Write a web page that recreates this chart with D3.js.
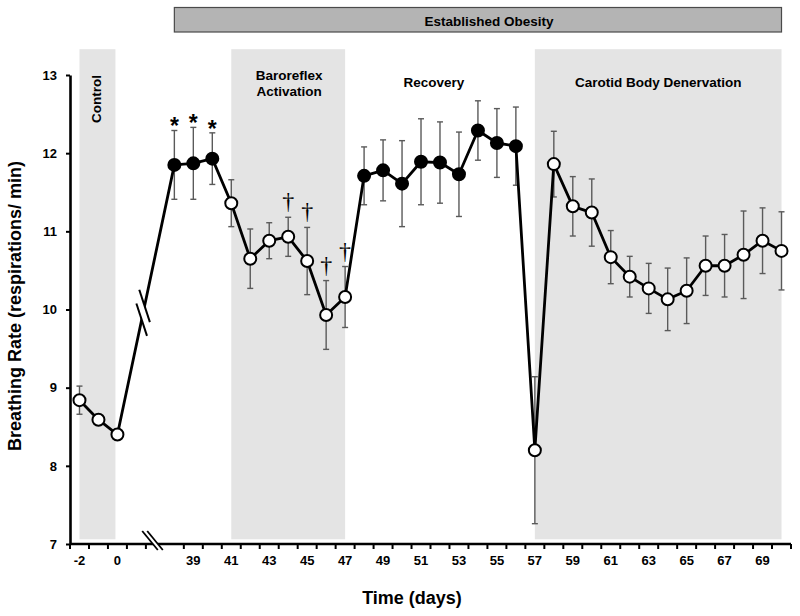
<!DOCTYPE html>
<html><head><meta charset="utf-8">
<script src="https://cdn.jsdelivr.net/npm/d3@7"></script>
<style>
body{margin:0;background:#fff}
svg{display:block}
text{font-family:"Liberation Sans",Arial,sans-serif;font-weight:bold;fill:#000}
</style>
</head><body>
<svg id="chart" width="800" height="616"></svg>
<script>
// ---- data ----
const days   = [-2,-1,0,38,39,40,41,42,43,44,45,46,47,48,49,50,51,52,53,54,55,56,57,58,59,60,61,62,63,64,65,66,67,68,69,70];
const values = [8.84,8.59,8.40,11.85,11.87,11.93,11.36,10.65,10.88,10.93,10.62,9.93,10.16,11.71,11.78,11.61,11.89,11.88,11.73,12.29,12.13,12.09,8.20,11.86,11.32,11.24,10.67,10.42,10.27,10.13,10.24,10.56,10.56,10.70,10.88,10.75];
const errors = [0.18,0.05,0.05,0.44,0.46,0.33,0.30,0.38,0.23,0.25,0.43,0.44,0.39,0.37,0.39,0.55,0.55,0.52,0.54,0.38,0.44,0.50,0.94,0.42,0.38,0.43,0.34,0.26,0.32,0.40,0.42,0.38,0.40,0.56,0.42,0.50];
const filledDays   = [38,39,40,48,49,50,51,52,53,54,55,56];
const asteriskDays = [38,39,40];
const daggerDays   = [44,45,46,47];
const categories = ["-2","-1","0","gap1","gap2"].concat(d3.range(38,71).map(String));
const xTickLabels = ["-2","0","39","41","43","45","47","49","51","53","55","57","59","61","63","65","67","69"];
const yTicks = [7,8,9,10,11,12,13];
const regionNames = ["Control","Baroreflex Activation","Recovery","Carotid Body Denervation"];
const regionStart = [-2,41,47,57];
const regionEnd   = [0,47,57,70];
const regionShaded = [true,true,false,true];
const bannerLabel = "Established Obesity";
const bannerStart = 38, bannerEnd = 70;
const xTitle = "Time (days)";
const yTitle = "Breathing Rate (respirations/ min)";

// ---- scales ----
const svg = d3.select("#chart");
const x = d3.scaleBand().domain(categories).range([70,791]).padding(0);
const xc = d => x(String(d)) + x.bandwidth()/2;
const y = d3.scaleLinear().domain([7,13]).range([544,75]);
const pts = days.map((d,i)=>({day:d, v:values[i], e:errors[i], filled:filledDays.includes(d)}));

// ---- shaded regions ----
regionNames.forEach((n,i)=>{
  if(!regionShaded[i]) return;
  svg.append("rect")
    .attr("x", xc(regionStart[i]))
    .attr("y", y(13.33))
    .attr("width", xc(regionEnd[i]) - xc(regionStart[i]) - (i===0?2:0))
    .attr("height", y(7.06) - y(13.33))
    .attr("fill", "#e4e4e4");
});

// ---- banner ----
svg.append("rect")
  .attr("x", xc(bannerStart)).attr("y", 7.5)
  .attr("width", xc(bannerEnd) - xc(bannerStart)).attr("height", 24.5)
  .attr("fill", "#b4b4b4").attr("stroke", "#4a4a4a").attr("stroke-width", 1.2);
svg.append("text").attr("x", 489).attr("y", 25.5).attr("text-anchor","middle")
  .style("font-size","13.5px").text(bannerLabel);

// ---- region labels ----
svg.append("text")
  .attr("transform", `translate(${xc(-2)+22},99) rotate(-90)`)
  .attr("text-anchor","middle").style("font-size","13.5px").text(regionNames[0]);
const baro = regionNames[1].split(" ");
const baroX = (xc(regionStart[1]) + xc(regionEnd[1]))/2 + 1;
svg.append("text").attr("x", baroX).attr("y", 80).attr("text-anchor","middle").style("font-size","13.5px").text(baro[0]);
svg.append("text").attr("x", baroX).attr("y", 96).attr("text-anchor","middle").style("font-size","13.5px").text(baro[1]);
svg.append("text").attr("x", (xc(regionStart[2]) + xc(regionEnd[2]))/2 - 6).attr("y", 86.5)
  .attr("text-anchor","middle").style("font-size","13.5px").text(regionNames[2]);
svg.append("text").attr("x", (xc(regionStart[3]) + xc(regionEnd[3]))/2).attr("y", 86.5)
  .attr("text-anchor","middle").style("font-size","13.5px").text(regionNames[3]);

// ---- error bars ----
const eb = svg.append("g").attr("stroke","#5a5a5a").attr("stroke-width",1.4);
pts.forEach(p=>{
  const cx = xc(p.day);
  eb.append("line").attr("x1",cx).attr("x2",cx).attr("y1",y(p.v+p.e)).attr("y2",y(p.v-p.e));
  eb.append("line").attr("x1",cx-3).attr("x2",cx+3).attr("y1",y(p.v+p.e)).attr("y2",y(p.v+p.e));
  eb.append("line").attr("x1",cx-3).attr("x2",cx+3).attr("y1",y(p.v-p.e)).attr("y2",y(p.v-p.e));
});

// ---- line ----
const line = d3.line().x(p=>xc(p.day)).y(p=>y(p.v));
svg.append("path").datum(pts).attr("d", line)
  .attr("fill","none").attr("stroke","#000").attr("stroke-width",2.8).attr("stroke-linejoin","round");

// ---- break in the data line ----
(function(){
  const a = pts.find(p=>p.day===0), b = pts.find(p=>p.day===38);
  const P = t => [xc(a.day) + t*(xc(b.day)-xc(a.day)), y(a.v) + t*(y(b.v)-y(a.v))];
  const ux = 0.312, uy = 0.95, h = 17;
  const c1 = P(0.426), c2 = P(0.477);
  const s1 = [[c1[0]-ux*h, c1[1]-uy*h],[c1[0]+ux*h, c1[1]+uy*h]];
  const s2 = [[c2[0]-ux*h, c2[1]-uy*h],[c2[0]+ux*h, c2[1]+uy*h]];
  svg.append("path").attr("d", d3.line()([s1[0],s1[1],s2[1],s2[0]])+"Z").attr("fill","#fff");
  [s1,s2].forEach(s=>svg.append("line").attr("x1",s[0][0]).attr("y1",s[0][1]).attr("x2",s[1][0]).attr("y2",s[1][1])
     .attr("stroke","#000").attr("stroke-width",2));
})();

// ---- markers ----
svg.append("g").selectAll("circle").data(pts).join("circle")
  .attr("cx", p=>xc(p.day)).attr("cy", p=>y(p.v)).attr("r", 6)
  .attr("fill", p=>p.filled?"#000":"#fff").attr("stroke","#000").attr("stroke-width",2);

// ---- significance symbols ----
pts.filter(p=>asteriskDays.includes(p.day)).forEach(p=>{
  svg.append("text").attr("x", xc(p.day)).attr("y", y(p.v+p.e)+4).attr("text-anchor","middle")
    .style("font-size","23px").text("*");
});
pts.filter(p=>daggerDays.includes(p.day)).forEach(p=>{
  svg.append("text").attr("x", xc(p.day)).attr("y", y(p.v+p.e)-8).attr("text-anchor","middle")
    .style("font-size","24px").style("font-weight","normal").style("font-family","'Liberation Serif',serif").text("\u2020");
});

// ---- y axis ----
const yAxis = svg.append("g").attr("transform","translate(70,0)")
  .call(d3.axisLeft(y).tickValues(yTicks).tickSize(4).tickSizeOuter(0).tickPadding(9).tickFormat(d3.format("d")));
yAxis.select(".domain").attr("stroke","#000").attr("stroke-width",2.6);
yAxis.selectAll(".tick line").attr("stroke","#000").attr("stroke-width",2);
yAxis.selectAll("text").style("font-size","13px").style("font-family","'Liberation Sans',Arial,sans-serif").style("font-weight","bold");

// ---- x axis ----
const xa = svg.append("g");
xa.append("line").attr("x1",70).attr("x2",791).attr("y1",y(7)).attr("y2",y(7))
  .attr("stroke","#000").attr("stroke-width",2.6);
const bounds = categories.map(c=>x(c)).concat([x.range()[1]]);
bounds.forEach((b,i)=>{
  if(i===5) return;
  xa.append("line").attr("x1",b).attr("x2",b).attr("y1",y(7)).attr("y2",y(7)+5)
    .attr("stroke","#000").attr("stroke-width",2);
});
xTickLabels.forEach(l=>{
  xa.append("text").attr("x", xc(l)).attr("y", 565).attr("text-anchor","middle").style("font-size","13px").text(l);
});
// axis break
(function(){
  const cx = xc("gap2"), ay = y(7), r = 0.82;
  const sl = c => [[c - 13*r, ay-13],[c + 6*r, ay+6]];
  const s1 = sl(cx-2.5), s2 = sl(cx+2.5);
  svg.append("path").attr("d", d3.line()([s1[0],s1[1],s2[1],s2[0]])+"Z").attr("fill","#fff");
  [s1,s2].forEach(s=>svg.append("line").attr("x1",s[0][0]).attr("y1",s[0][1]).attr("x2",s[1][0]).attr("y2",s[1][1])
    .attr("stroke","#000").attr("stroke-width",1.8));
})();

// ---- axis titles ----
svg.append("text").attr("x", 412).attr("y", 604).attr("text-anchor","middle").style("font-size","18px").text(xTitle);
svg.append("text").attr("transform","translate(21,306) rotate(-90)").attr("text-anchor","middle")
  .style("font-size","18px").text(yTitle);
</script>
</body></html>
